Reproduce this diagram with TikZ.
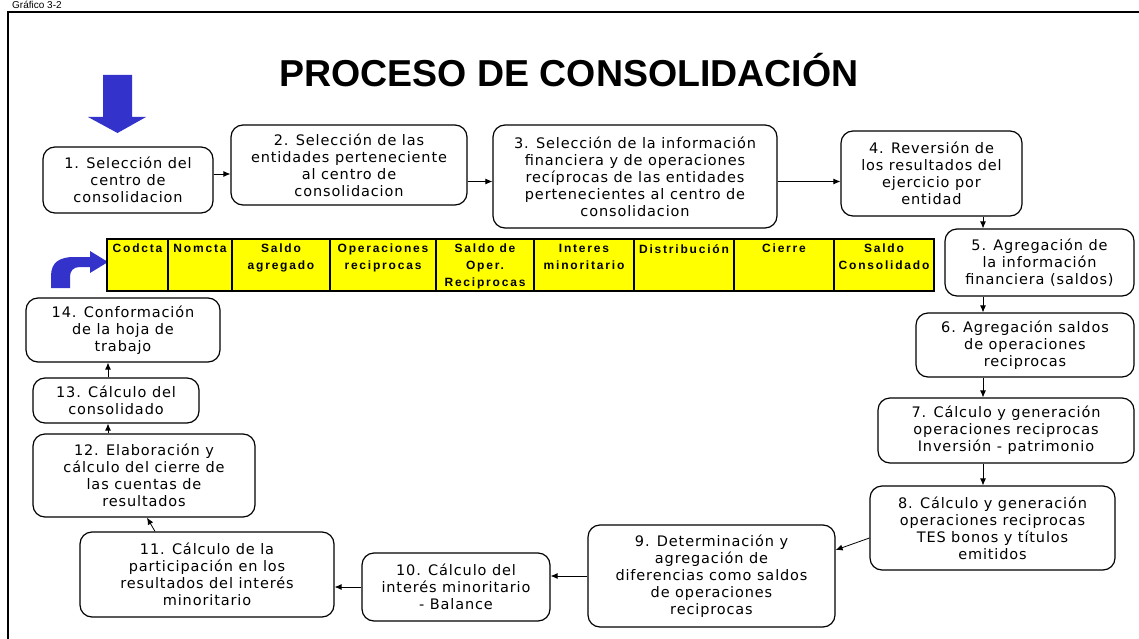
\documentclass[tikz,border=0pt]{standalone}
\usepackage{fontspec}
\usetikzlibrary{arrows.meta}
\newfontfamily\boxfont{DejaVu Sans}[LetterSpace=6]
\newfontfamily\arialfont{Liberation Sans}
\newfontfamily\hdrfont{Liberation Sans}[LetterSpace=15]
\definecolor{azul}{HTML}{3333CC}
\definecolor{amarillo}{HTML}{FFFF00}
\tikzset{
  paso/.style={draw, rounded corners=12pt, line width=1.2pt, align=center,
    inner sep=2pt, font=\boxfont\fontsize{14.5}{17}\selectfont},
  encab/.style={anchor=north, align=center, inner sep=0pt,
    font=\hdrfont\bfseries\fontsize{12}{17}\selectfont},
  flecha/.style={-{Latex[length=7pt,width=6pt]}, line width=0.8pt}
}
\begin{document}
\begin{tikzpicture}[x=1pt,y=-1pt]
\useasboundingbox (0,0) rectangle (1139,639);
\node[anchor=base west, inner sep=0pt, font=\arialfont\fontsize{10}{12}\selectfont] (grafico) at (12,8.5) {Gráfico 3-2};
\draw[line width=2pt] (8,639) -- (8,12) -- (1139,12);

\node[font=\arialfont\bfseries\fontsize{37.5}{40}\selectfont, inner sep=0pt, anchor=base] (titulo) at (569,87) {PROCESO DE CONSOLIDACIÓN};

% flechas azules
\fill[azul] (103,75) -- (132,75) -- (132,117) -- (146,117) -- (117.5,133) -- (88,117) -- (103,117) -- cycle;
\fill[azul] (51,288) -- (51,276) .. controls (51,262) and (60,257) .. (74,257) -- (90,257) -- (90,251)
  -- (108,262) -- (90,273) -- (90,267) -- (80,267) .. controls (73,267) and (70,271) .. (70,277) -- (70,288) -- cycle;

% hoja de trabajo
\fill[color=amarillo] (107,239) rectangle (934,291);
\draw[line width=2pt] (107,239) rectangle (934,291);
\draw[line width=2pt] (168,239) -- (168,291);
\draw[line width=2pt] (232,239) -- (232,291);
\draw[line width=2pt] (330,239) -- (330,291);
\draw[line width=2pt] (436,239) -- (436,291);
\draw[line width=2pt] (534,239) -- (534,291);
\draw[line width=2pt] (634,239) -- (634,291);
\draw[line width=2pt] (734,239) -- (734,291);
\draw[line width=2pt] (834,239) -- (834,291);

\node[encab] (h1) at (137.5,244) {Codcta};
\node[encab] (h2) at (200,244) {Nomcta};
\node[encab] (h3) at (281,244) {Saldo\\agregado};
\node[encab] (h4) at (383,244) {Operaciones\\reciprocas};
\node[encab] (h5) at (485,244) {Saldo de\\Oper.\\Reciprocas};
\node[encab] (h6) at (584,244) {Interes\\minoritario};
\node[encab] (h7) at (684,244) {Distribución};
\node[encab] (h8) at (784,244) {Cierre};
\node[encab] (h9) at (884,244) {Saldo\\Consolidado};

% pasos
\node[paso, minimum width=170pt, minimum height=66pt] (b1) at (128,180) {1. Selección del\\centro de\\consolidacion};
\node[paso, minimum width=236pt, minimum height=80pt] (b2) at (349,165) {2. Selección de las\\entidades perteneciente\\al centro de\\consolidacion};
\node[paso, minimum width=284pt, minimum height=103pt] (b3) at (635,176.5) {3. Selección de la información\\financiera y de operaciones\\recíprocas de las entidades\\pertenecientes al centro de\\consolidacion};
\node[paso, minimum width=181pt, minimum height=85pt] (b4) at (931.5,173.5) {4. Reversión de\\los resultados del\\ejercicio por\\entidad};
\node[paso, minimum width=189pt, minimum height=67pt] (b5) at (1039.5,262.5) {5. Agregación de\\la información\\financiera (saldos)};
\node[paso, minimum width=218pt, minimum height=64pt] (b6) at (1025,345) {6. Agregación saldos\\de operaciones\\reciprocas};
\node[paso, minimum width=256pt, minimum height=65pt] (b7) at (1006,430.5) {7. Cálculo y generación\\operaciones reciprocas\\Inversión - patrimonio};
\node[paso, minimum width=245pt, minimum height=84pt] (b8) at (992.5,528) {8. Cálculo y generación\\operaciones reciprocas\\TES bonos y títulos\\emitidos};
\node[paso, minimum width=247pt, minimum height=102pt] (b9) at (711.5,576) {9. Determinación y\\agregación de\\diferencias como saldos\\de operaciones\\reciprocas};
\node[paso, minimum width=188pt, minimum height=68pt] (b10) at (456,587) {10. Cálculo del\\interés minoritario\\- Balance};
\node[paso, minimum width=254pt, minimum height=85pt] (b11) at (207,574.5) {11. Cálculo de la\\participación en los\\resultados del interés\\minoritario};
\node[paso, minimum width=222pt, minimum height=83pt] (b12) at (144,475.5) {12. Elaboración y\\cálculo del cierre de\\las cuentas de\\resultados};
\node[paso, minimum width=166pt, minimum height=45pt] (b13) at (116,400.5) {13. Cálculo del\\consolidado};
\node[paso, minimum width=194pt, minimum height=64pt] (b14) at (123,330) {14. Conformación\\de la hoja de\\trabajo};

\coordinate (vx) at (983,0);
\coordinate (ax) at (108,0);

\draw[flecha] ([yshift=6pt]b1.east) -- ([yshift=6pt]b1.east -| b2.west);
\draw[flecha] ([yshift=-5pt]b2.east |- b3.west) -- ([yshift=-5pt]b3.west);
\draw[flecha] ([yshift=-5pt]b3.east) -- ([yshift=-5pt]b3.east -| b4.west);
\draw[flecha] (b4.south -| vx) -- (b5.north -| vx);
\draw[flecha] (b5.south -| vx) -- (b6.north -| vx);
\draw[flecha] (b6.south -| vx) -- (b7.north -| vx);
\draw[flecha] (b7.south -| vx) -- (b8.north -| vx);
\draw[flecha] ([yshift=-10pt]b8.west) -- ([yshift=26pt]b9.east);
\draw[flecha] (b9.west) -- (b9.west -| b10.east);
\draw[flecha] (b10.west) -- (b10.west -| b11.east);
\draw[flecha] ([xshift=-52pt]b11.north) -- ([xshift=3pt]b12.south);
\draw[flecha] (b12.north -| ax) -- (b13.south -| ax);
\draw[flecha] (b13.north -| ax) -- (b14.south -| ax);
\end{tikzpicture}
\end{document}
